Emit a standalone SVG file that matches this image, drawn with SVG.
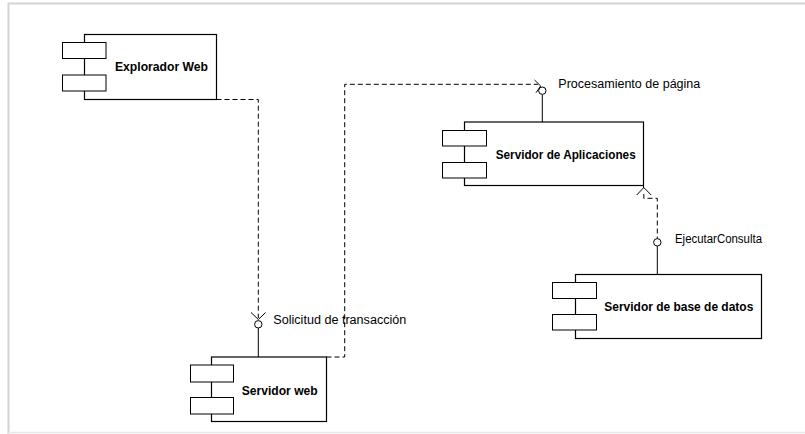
<svg xmlns="http://www.w3.org/2000/svg" width="805" height="434" viewBox="0 0 805 434">
  <style>
    .box { fill: #ffffff; stroke: #000000; stroke-width: 1.2; }
    .port { fill: #ffffff; stroke: #000000; stroke-width: 1; }
    .name { font-family: "Liberation Sans", Arial, sans-serif; font-size: 13px; font-weight: bold; fill: #000000; }
    .lbl { font-family: "Liberation Sans", Arial, sans-serif; font-size: 12.5px; fill: #000000; }
    .dep { fill: none; stroke: #000000; stroke-width: 1; stroke-dasharray: 5 3; }
    .solid { fill: none; stroke: #000000; stroke-width: 1; }
    .head { fill: none; stroke: #000000; stroke-width: 1; }
    .iface { fill: #ffffff; stroke: #000000; stroke-width: 1; }
  </style>

  <!-- page frame -->
  <path d="M8.5 434 V3.5 H805" fill="none" stroke="#d4d4d4" stroke-width="2"/>
  <line x1="8" y1="432.5" x2="805" y2="432.5" stroke="#e6e6e6" stroke-width="1.5"/>

  <!-- components -->
  <g id="explorador-web">
    <rect class="box" x="84.5" y="34.5" width="132" height="65"/>
    <rect class="port" x="62.5" y="42.5" width="43.5" height="16"/>
    <rect class="port" x="62.5" y="75" width="43.5" height="16"/>
    <text class="name" x="115" y="70.7" textLength="93" lengthAdjust="spacingAndGlyphs">Explorador Web</text>
  </g>

  <g id="servidor-web">
    <rect class="box" x="211.5" y="357" width="115" height="64.5"/>
    <rect class="port" x="190.5" y="365" width="43" height="17"/>
    <rect class="port" x="190.5" y="397.5" width="43" height="16.5"/>
    <text class="name" x="241.7" y="395" textLength="76" lengthAdjust="spacingAndGlyphs">Servidor web</text>
  </g>

  <g id="servidor-aplicaciones">
    <rect class="box" x="464.5" y="122" width="179" height="63.5"/>
    <rect class="port" x="442.5" y="130.5" width="44" height="15.5"/>
    <rect class="port" x="442.5" y="162.5" width="44" height="15.5"/>
    <text class="name" x="495.7" y="159.3" textLength="140" lengthAdjust="spacingAndGlyphs">Servidor de Aplicaciones</text>
  </g>

  <g id="servidor-base-datos">
    <rect class="box" x="575.5" y="274.5" width="186" height="64"/>
    <rect class="port" x="552.5" y="282.5" width="44" height="16"/>
    <rect class="port" x="552.5" y="314.5" width="44" height="15.5"/>
    <text class="name" x="604.3" y="310.7" textLength="149" lengthAdjust="spacingAndGlyphs">Servidor de base de datos</text>
  </g>

  <!-- provided interfaces (lollipops) -->
  <g id="if-solicitud">
    <line class="solid" x1="258.3" y1="328" x2="258.3" y2="357"/>
    <circle class="iface" cx="258.3" cy="324.3" r="3.7"/>
    <text class="lbl" x="273.3" y="324.3" textLength="133" lengthAdjust="spacingAndGlyphs">Solicitud de transacción</text>
  </g>
  <g id="if-procesamiento">
    <line class="solid" x1="542.3" y1="94.4" x2="542.3" y2="122"/>
    <circle class="iface" cx="542.3" cy="90.7" r="3.7"/>
    <text class="lbl" x="558.3" y="88.3" textLength="142" lengthAdjust="spacingAndGlyphs">Procesamiento de página</text>
  </g>
  <g id="if-ejecutar">
    <line class="solid" x1="657.3" y1="246" x2="657.3" y2="274.5"/>
    <circle class="iface" cx="657.3" cy="242.3" r="3.7"/>
    <text class="lbl" x="675" y="243.3" textLength="87" lengthAdjust="spacingAndGlyphs">EjecutarConsulta</text>
  </g>

  <!-- dependency connectors -->
  <g id="connectors">
    <!-- Explorador Web -> Solicitud de transacción -->
    <path class="dep" d="M216.5 99.5 H258.3 V318"/>
    <path class="head" d="M251 312.5 L258.3 319.5 L265.6 312.5"/>

    <!-- Servidor web -> Procesamiento de página -->
    <path class="dep" d="M326.5 357 H344.7 V84.3 H538"/>
    <path class="head" d="M534.5 80 L540.7 86 L536 92.7"/>

    <!-- EjecutarConsulta -> Servidor de Aplicaciones -->
    <path class="solid" d="M643.5 185.5 V188"/>
    <path class="head" d="M636.7 195 L643.8 187.5 L651.2 195"/>
    <path class="dep" d="M643.8 194 V198.3 H657.3 V238.6"/>
  </g>
</svg>
